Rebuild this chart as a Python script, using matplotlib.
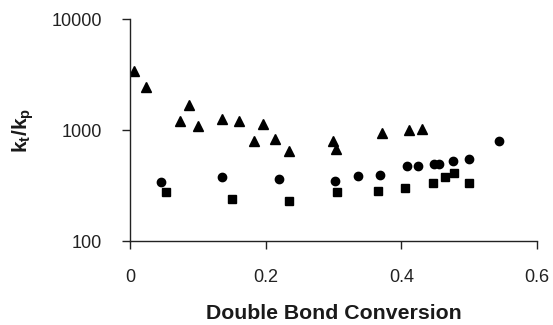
import matplotlib
matplotlib.use("Agg")
import matplotlib.pyplot as plt
from matplotlib.ticker import FixedLocator, NullLocator

plt.rcParams['font.family'] = ['Liberation Sans', 'DejaVu Sans']
plt.rcParams['mathtext.fontset'] = 'custom'
plt.rcParams['mathtext.rm'] = 'Liberation Sans'
plt.rcParams['mathtext.bf'] = 'Liberation Sans:bold'
plt.rcParams['mathtext.it'] = 'Liberation Sans:italic'

# triangles
tri_x = [0.006, 0.024, 0.074, 0.087, 0.100, 0.135, 0.160, 0.183, 0.196, 0.214,
         0.234, 0.299, 0.303, 0.372, 0.411, 0.430]
tri_y = [3420, 2430, 1213, 1667, 1087, 1265, 1213, 790, 1133, 824,
         652, 801, 680, 946, 1000, 1020]

# circles
circ_x = [0.046, 0.136, 0.220, 0.302, 0.336, 0.368, 0.408, 0.425, 0.448, 0.456,
          0.476, 0.500, 0.544]
circ_y = [340, 375, 364, 345, 385, 391, 477, 474, 494, 494, 522, 551, 790]

# squares
sq_x = [0.053, 0.151, 0.235, 0.305, 0.366, 0.406, 0.447, 0.465, 0.477, 0.500]
sq_y = [278, 238, 228, 276, 282, 300, 335, 375, 408, 331]

x_ticks = [0, 0.2, 0.4, 0.6]
x_labels = ["0", "0.2", "0.4", "0.6"]
y_ticks = [100, 1000, 10000]
y_labels = ["100", "1000", "10000"]

fig = plt.figure(figsize=(5.53, 3.25), dpi=100)
ax = fig.add_axes([130 / 553, 1 - 241 / 325, 407 / 553, 222 / 325])

ax.plot(tri_x, tri_y, linestyle="none", marker="^", color="black", markersize=7)
ax.plot(circ_x, circ_y, linestyle="none", marker="o", color="black", markersize=6)
ax.plot(sq_x, sq_y, linestyle="none", marker="s", color="black", markersize=5.5)

ax.set_yscale("log")
ax.set_xlim(0, 0.6)
ax.set_ylim(100, 10000)
ax.xaxis.set_major_locator(FixedLocator(x_ticks))
ax.set_xticklabels(x_labels)
ax.yaxis.set_major_locator(FixedLocator(y_ticks))
ax.yaxis.set_minor_locator(NullLocator())
ax.set_yticklabels(y_labels)

for side in ["top", "right"]:
    ax.spines[side].set_visible(False)
for side in ["left", "bottom"]:
    ax.spines[side].set_linewidth(1.0)
    ax.spines[side].set_color("#222222")

ax.tick_params(axis="x", direction="out", length=6, width=1, pad=14, labelsize=13, colors="#222222")
ax.tick_params(axis="y", direction="out", length=6, width=1, pad=14, labelsize=13, colors="#222222")

ax.set_xlabel("Double Bond Conversion", fontsize=15.3, fontweight="bold", color="#1a1a1a")
ax.xaxis.set_label_coords(0.5, -0.285)
ax.set_ylabel(r"$\mathbf{k_t/k_p}$", fontsize=15, color="#1a1a1a")
ax.yaxis.set_label_coords(-0.232, 0.5)

fig.savefig("out.png", dpi=100)
